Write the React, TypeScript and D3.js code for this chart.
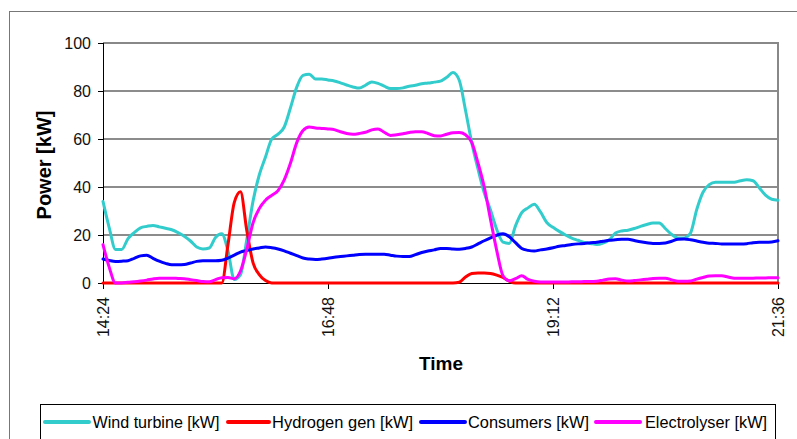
import React from "react";
import * as d3 from "d3";

const W = 797;
const H = 439;

// minutes after 14:24, sampled every 4 minutes
const STEP_MIN = 4;
const times: number[] = d3.range(0, 433, STEP_MIN);

const tickMinutes = [0, 144, 288, 432];
const tickLabels = ["14:24", "16:48", "19:12", "21:36"];
const yTicks = [0, 20, 40, 60, 80, 100];

const windTurbine = [
  34, 23, 14, 14, 18.5, 21, 23, 23.6, 24, 23.4,
  22.8, 22.2, 21, 19.5, 17.5, 15, 14.2, 14.6, 19, 20.5,
  13.4, 1.5, 3.5, 18, 34, 45, 52.5, 60, 62, 65,
  73, 81.6, 86.5, 87, 85, 85, 84.6, 84.2, 83.4, 82.5,
  81.7, 81.2, 82.4, 83.8, 83.2, 82, 81, 81, 81.3, 82,
  82.4, 83, 83.3, 83.7, 84.1, 85.7, 87.7, 84.5, 72, 58.5,
  47.5, 37.6, 30.4, 22.3, 17, 16.5, 23.8, 29.3, 31.3, 32.8,
  29.6, 25.2, 23.2, 21.5, 20, 18.7, 17.8, 16.9, 16.5, 16,
  16.6, 18, 20.8, 21.7, 22, 22.7, 23.6, 24.4, 25, 25,
  22.6, 20.2, 18.8, 18.8, 20.8, 30.6, 37.8, 41, 42, 42,
  42, 42, 42.6, 43, 42.6, 39.7, 36.6, 34.9, 34.5,
];

const hydrogenGen = [
  0, 0, 0, 0, 0, 0, 0, 0, 0, 0,
  0, 0, 0, 0, 0, 0, 0, 0, 0, 0,
  16, 33.5, 38, 22, 8.5, 3.5, 1, 0, 0, 0,
  0, 0, 0, 0, 0, 0, 0, 0, 0, 0,
  0, 0, 0, 0, 0, 0, 0, 0, 0, 0,
  0, 0, 0, 0, 0, 0, 0, 0.3, 2.5, 4,
  4.2, 4.2, 4, 3.3, 2.3, 0.8, 0, 0, 0, 0,
  0, 0, 0, 0, 0, 0, 0, 0, 0, 0,
  0, 0, 0, 0, 0, 0, 0, 0, 0, 0,
  0, 0, 0, 0, 0, 0, 0, 0, 0, 0,
  0, 0, 0, 0, 0, 0, 0, 0, 0,
];

const consumers = [
  10, 9.4, 9, 9.1, 9.3, 10.3, 11.3, 11.6, 10.3, 9.1,
  8.2, 7.6, 7.6, 7.7, 8.3, 9, 9.3, 9.3, 9.3, 9.5,
  10.4, 11.6, 12.9, 13.5, 14.2, 14.6, 15, 14.7, 14.2, 13.4,
  12.4, 11.4, 10.4, 10, 9.8, 10, 10.3, 10.7, 11, 11.3,
  11.6, 11.9, 12, 12, 12, 12, 11.6, 11.2, 11, 11,
  11.8, 12.7, 13.3, 13.8, 14.4, 14.4, 14.2, 14.1, 14.4, 15,
  16.3, 17.6, 18.8, 19.9, 20.5, 19.3, 16.8, 14.4, 13.6, 13.3,
  13.8, 14.2, 14.7, 15.3, 15.6, 16, 16.3, 16.5, 16.8, 17,
  17.4, 17.8, 18, 18.2, 18.2, 17.7, 17.2, 16.8, 16.5, 16.5,
  16.7, 17.4, 18.2, 18.3, 18, 17.5, 17, 16.6, 16.5, 16.3,
  16.3, 16.3, 16.3, 16.4, 16.8, 17, 17, 17.1, 17.6,
];

const electrolyser = [
  16, 6.5, 0, 0, 0.3, 0.5, 0.8, 1.2, 1.7, 2,
  2, 2, 1.9, 1.8, 1.4, 1, 0.6, 0.5, 1.4, 2.2,
  2.3, 1.8, 5, 14, 25, 31, 34.5, 36.5, 38.5, 43,
  50, 58.5, 63.5, 65, 64.6, 64.4, 64.2, 63.9, 63, 62.3,
  62, 62.3, 62.8, 63.8, 64.2, 62.8, 61.5, 61.8, 62.2, 62.7,
  63, 63, 62.3, 61.4, 61.3, 62, 62.6, 62.7, 61.8, 58.6,
  50, 40, 26.5, 13.5, 3, 0.9, 1.8, 3, 1.5, 0.7,
  0.4, 0.4, 0.4, 0.4, 0.4, 0.5, 0.5, 0.6, 0.6, 0.7,
  1.2, 1.7, 1.8, 1.2, 0.8, 1, 1.3, 1.6, 1.9, 2,
  2, 1.3, 0.7, 0.7, 0.8, 1.6, 2.3, 2.9, 3, 3,
  2.5, 2, 2, 2, 2, 2.1, 2.1, 2.2, 2.2,
];

const seriesNames = ["Wind turbine [kW]", "Hydrogen gen [kW]", "Consumers [kW]", "Electrolyser [kW]"];
const seriesValues = [windTurbine, hydrogenGen, consumers, electrolyser];
const seriesColors = ["#33CCCC", "#FF0000", "#0000FF", "#FF00FF"];

const FONT = "'Liberation Sans', Arial, sans-serif";

export default function App() {
  const left = 103, right = 778, top = 43, bottom = 283;
  const x = d3.scaleLinear().domain([0, 432]).range([left, right]);
  const y = d3.scaleLinear().domain([0, 100]).range([bottom, top]);
  const line = d3
    .line<number>()
    .x((_, i) => x(times[i]))
    .y((d) => y(d))
    .curve(d3.curveMonotoneX);

  const legendItems = [
    { x1: 45, x2: 89, tx: 92.5, tw: 127 },
    { x1: 228, x2: 269, tx: 272, tw: 141 },
    { x1: 421, x2: 465, tx: 468, tw: 121 },
    { x1: 596, x2: 640, tx: 645, tw: 122 },
  ];
  const legendY = 422;

  return (
    <svg
      width={W}
      height={H}
      style={{ position: "absolute", left: 0, top: 0, background: "#fff" }}
      fontFamily={FONT}
    >
      <rect x={0} y={0} width={W} height={H} fill="#fff" />
      {/* outer chart frame */}
      <rect x={9.5} y={11.5} width={820} height={460} fill="none" stroke="#777" strokeWidth={1} />

      {/* gridlines */}
      {yTicks.filter((t) => t > 0 && t < 100).map((t) => (
        <line key={t} x1={left} x2={right} y1={y(t)} y2={y(t)} stroke="#666" strokeWidth={1.3} />
      ))}
      {/* plot border top/right */}
      <line x1={left} x2={right + 1} y1={top} y2={top} stroke="#888" strokeWidth={2} />
      <line x1={right} x2={right} y1={top} y2={bottom} stroke="#888" strokeWidth={2} />

      {/* axes */}
      <line x1={left + 0.5} x2={left + 0.5} y1={top} y2={bottom} stroke="#000" strokeWidth={1} />
      <line x1={left} x2={right} y1={bottom + 0.5} y2={bottom + 0.5} stroke="#000" strokeWidth={1} />
      {yTicks.map((t) => (
        <g key={t}>
          <line x1={left - 5} x2={left} y1={Math.round(y(t)) + 0.5} y2={Math.round(y(t)) + 0.5} stroke="#000" />
          <text x={91} y={y(t)} textAnchor="end" dominantBaseline="central" fontSize={16} fill="#111">
            {t}
          </text>
        </g>
      ))}
      {tickMinutes.map((m, i) => (
        <g key={m}>
          <line x1={Math.round(x(m)) + 0.5} x2={Math.round(x(m)) + 0.5} y1={bottom} y2={bottom + 6} stroke="#000" />
          <text
            transform={`translate(${x(m)},${bottom + 14}) rotate(-90)`}
            textAnchor="end"
            dominantBaseline="central"
            fontSize={16}
            fill="#111"
          >
            {tickLabels[i]}
          </text>
        </g>
      ))}

      {/* series */}
      {seriesValues.map((vals, i) => (
        <path
          key={seriesNames[i]}
          d={line(vals) || ""}
          fill="none"
          stroke={seriesColors[i]}
          strokeWidth={3}
          strokeLinejoin="round"
          strokeLinecap="round"
        />
      ))}

      {/* axis titles */}
      <text
        transform={`translate(44,165) rotate(-90)`}
        textAnchor="middle"
        dominantBaseline="central"
        fontSize={20}
        fontWeight="bold"
        fill="#000"
      >
        Power [kW]
      </text>
      <text x={441} y={363} textAnchor="middle" dominantBaseline="central" fontSize={19} fontWeight="bold" fill="#000">
        Time
      </text>

      {/* legend */}
      <rect x={40.5} y={404.5} width={735} height={60} fill="#fff" stroke="#000" strokeWidth={1} />
      {seriesNames.map((name, i) => (
        <g key={name}>
          <line
            x1={legendItems[i].x1}
            x2={legendItems[i].x2}
            y1={legendY}
            y2={legendY}
            stroke={seriesColors[i]}
            strokeWidth={4}
            strokeLinecap="round"
          />
          <text
            x={legendItems[i].tx}
            y={legendY}
            dominantBaseline="central"
            fontSize={16}
            textLength={legendItems[i].tw}
            lengthAdjust="spacingAndGlyphs"
            fill="#000"
          >
            {name}
          </text>
        </g>
      ))}
    </svg>
  );
}
